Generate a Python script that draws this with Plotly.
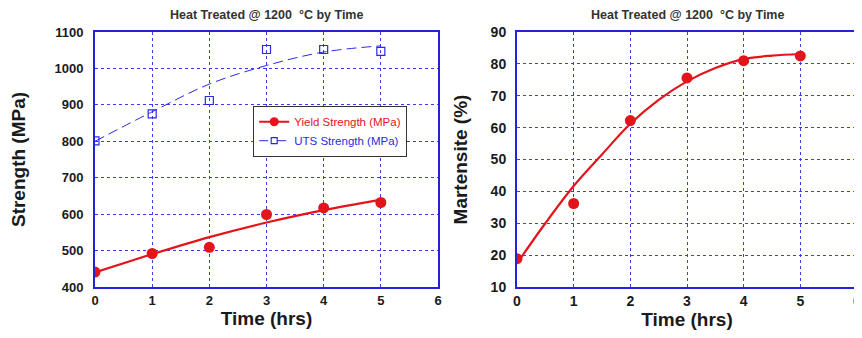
import plotly.graph_objects as go

# ---- data ----
time_hrs = [0, 1, 2, 3, 4, 5]
yield_strength = [441, 492, 509, 599, 617, 632]
uts_strength = [801, 875, 912, 1052, 1052, 1047]
martensite = [18.9, 36.2, 62.2, 75.6, 81.0, 82.5]

# fitted trend curves
fit_time = [0, 1, 2, 3, 4, 5]
fit_yield = [440, 490, 537, 577, 611, 640]
fit_uts = [800, 881, 957, 1008, 1045, 1062]
fit_time_m = [0, 0.5, 1, 1.5, 2, 2.5, 3, 3.5, 4, 4.5, 5]
fit_mart = [17.4, 30, 41.7, 51.6, 61.2, 68.7, 74.5, 78.7, 81.5, 82.6, 83.1]

x_ticks = [0, 1, 2, 3, 4, 5, 6]
strength_ticks = [400, 500, 600, 700, 800, 900, 1000, 1100]
mart_ticks = [10, 20, 30, 40, 50, 60, 70, 80, 90]

RED = "#e3141b"
BLUE = "#2a2ae6"
FRAME = "#2222dd"
GRID = "#3a3af0"
TXT = "#1a1a1a"
FONT = "Liberation Sans, Arial, sans-serif"

# page body has an 8px margin: work in reference pixels minus 8
OFF = 8
W, H = 862 - OFF, 338 - OFF

fig = go.Figure()

# left panel
fig.add_trace(go.Scatter(x=fit_time, y=fit_uts, mode="lines",
                         line=dict(color=BLUE, width=1, dash="10px,5px", shape="spline"),
                         showlegend=False, xaxis="x", yaxis="y"))
fig.add_trace(go.Scatter(x=time_hrs, y=uts_strength, mode="markers",
                         marker=dict(symbol="square-open", size=8, color=BLUE, line=dict(width=1.2, color=BLUE)),
                         showlegend=False, xaxis="x", yaxis="y"))
fig.add_trace(go.Scatter(x=fit_time, y=fit_yield, mode="lines", line=dict(color=RED, width=2.2, shape="spline"),
                         showlegend=False, xaxis="x", yaxis="y"))
fig.add_trace(go.Scatter(x=time_hrs, y=yield_strength, mode="markers",
                         marker=dict(symbol="circle", size=11, color=RED),
                         showlegend=False, xaxis="x", yaxis="y"))
# legend entries
fig.add_trace(go.Scatter(x=[None], y=[None], mode="lines+markers",
                         name="<span style='color:#e3141b'>Yield Strength (MPa)</span>",
                         line=dict(color=RED, width=2), marker=dict(symbol="circle", size=9, color=RED),
                         xaxis="x", yaxis="y"))
fig.add_trace(go.Scatter(x=[None], y=[None], mode="lines+markers",
                         name="<span style='color:#2a2ae6'>UTS Strength (MPa)</span>",
                         line=dict(color=BLUE, width=1, dash="dash"),
                         marker=dict(symbol="square-open", size=6, color=BLUE, line=dict(width=1.2, color=BLUE)),
                         xaxis="x", yaxis="y"))

# right panel
fig.add_trace(go.Scatter(x=fit_time_m, y=fit_mart, mode="lines", line=dict(color=RED, width=2.2, shape="spline"),
                         showlegend=False, xaxis="x2", yaxis="y2"))
fig.add_trace(go.Scatter(x=time_hrs, y=martensite, mode="markers",
                         marker=dict(symbol="circle", size=11, color=RED),
                         showlegend=False, xaxis="x2", yaxis="y2"))

axis_common = dict(
    showline=True, linecolor=FRAME, linewidth=2, mirror=True,
    showgrid=True, gridcolor=GRID, gridwidth=1, griddash="dot",
    zeroline=False, ticks="", ticklabeloverflow="allow",
)
tick_l = dict(family=FONT, size=13, color=TXT, weight="bold")
tick_r = dict(family=FONT, size=14, color=TXT, weight="bold")
title_font = dict(family=FONT, size=19, color=TXT, weight="bold")

# reference-pixel geometry
PL, PR1, PL2, PR2, PT, PB = 95, 438, 517, 857, 32, 287
L = PL - OFF
R = 862 - PR2
T = PT - OFF
B = 338 - PB
pw = W - L - R
ph = H - T - B
x1_end = (PR1 - PL) / pw
x2_start = (PL2 - PL) / pw

fig.update_layout(
    width=W, height=H,
    margin=dict(l=L, r=R, t=T, b=B, autoexpand=False),
    paper_bgcolor="white", plot_bgcolor="white",
    font=dict(family=FONT, color=TXT),
    xaxis=dict(domain=[0, x1_end], range=[0, 6], tickvals=x_ticks, ticklabelstandoff=0, tickfont=tick_l,
               title=dict(text="Time (hrs)", font=title_font, standoff=4), anchor="y", **axis_common),
    yaxis=dict(domain=[0, 1], range=[400, 1100], tickvals=strength_ticks, ticklabelstandoff=7, tickfont=tick_l,
               title=dict(text="Strength (MPa)", font=title_font, standoff=29), anchor="x", **axis_common),
    xaxis2=dict(domain=[x2_start, 1], range=[0, 6], tickvals=x_ticks, ticklabelstandoff=0, tickfont=tick_r,
                title=dict(text="Time (hrs)", font=title_font, standoff=3), anchor="y2", **axis_common),
    yaxis2=dict(domain=[0, 1], range=[10, 90], tickvals=mart_ticks, ticklabelstandoff=6, tickfont=tick_r,
                title=dict(text="Martensite (%)", font=title_font, standoff=18), anchor="x2", **axis_common),
    legend=dict(x=(253 - PL) / pw, y=1 - (106 - PT) / ph, xanchor="left", yanchor="top",
                bgcolor="white", bordercolor="#333333", borderwidth=1.2,
                font=dict(family=FONT, size=11.5), tracegroupgap=0, itemwidth=30),
    showlegend=True,
)

title_text = "Heat Treated @ 1200  °C by Time"
for xc_px in [(PL + PR1) / 2, (PL2 + PR2) / 2]:
    fig.add_annotation(text=title_text, x=(xc_px - PL) / pw, y=1 + (PT - 15) / ph, xref="paper", yref="paper",
                       showarrow=False, xanchor="center", yanchor="middle",
                       font=dict(family=FONT, size=12.5, color="#333333", weight="bold"))

fig.write_html("out.html")
